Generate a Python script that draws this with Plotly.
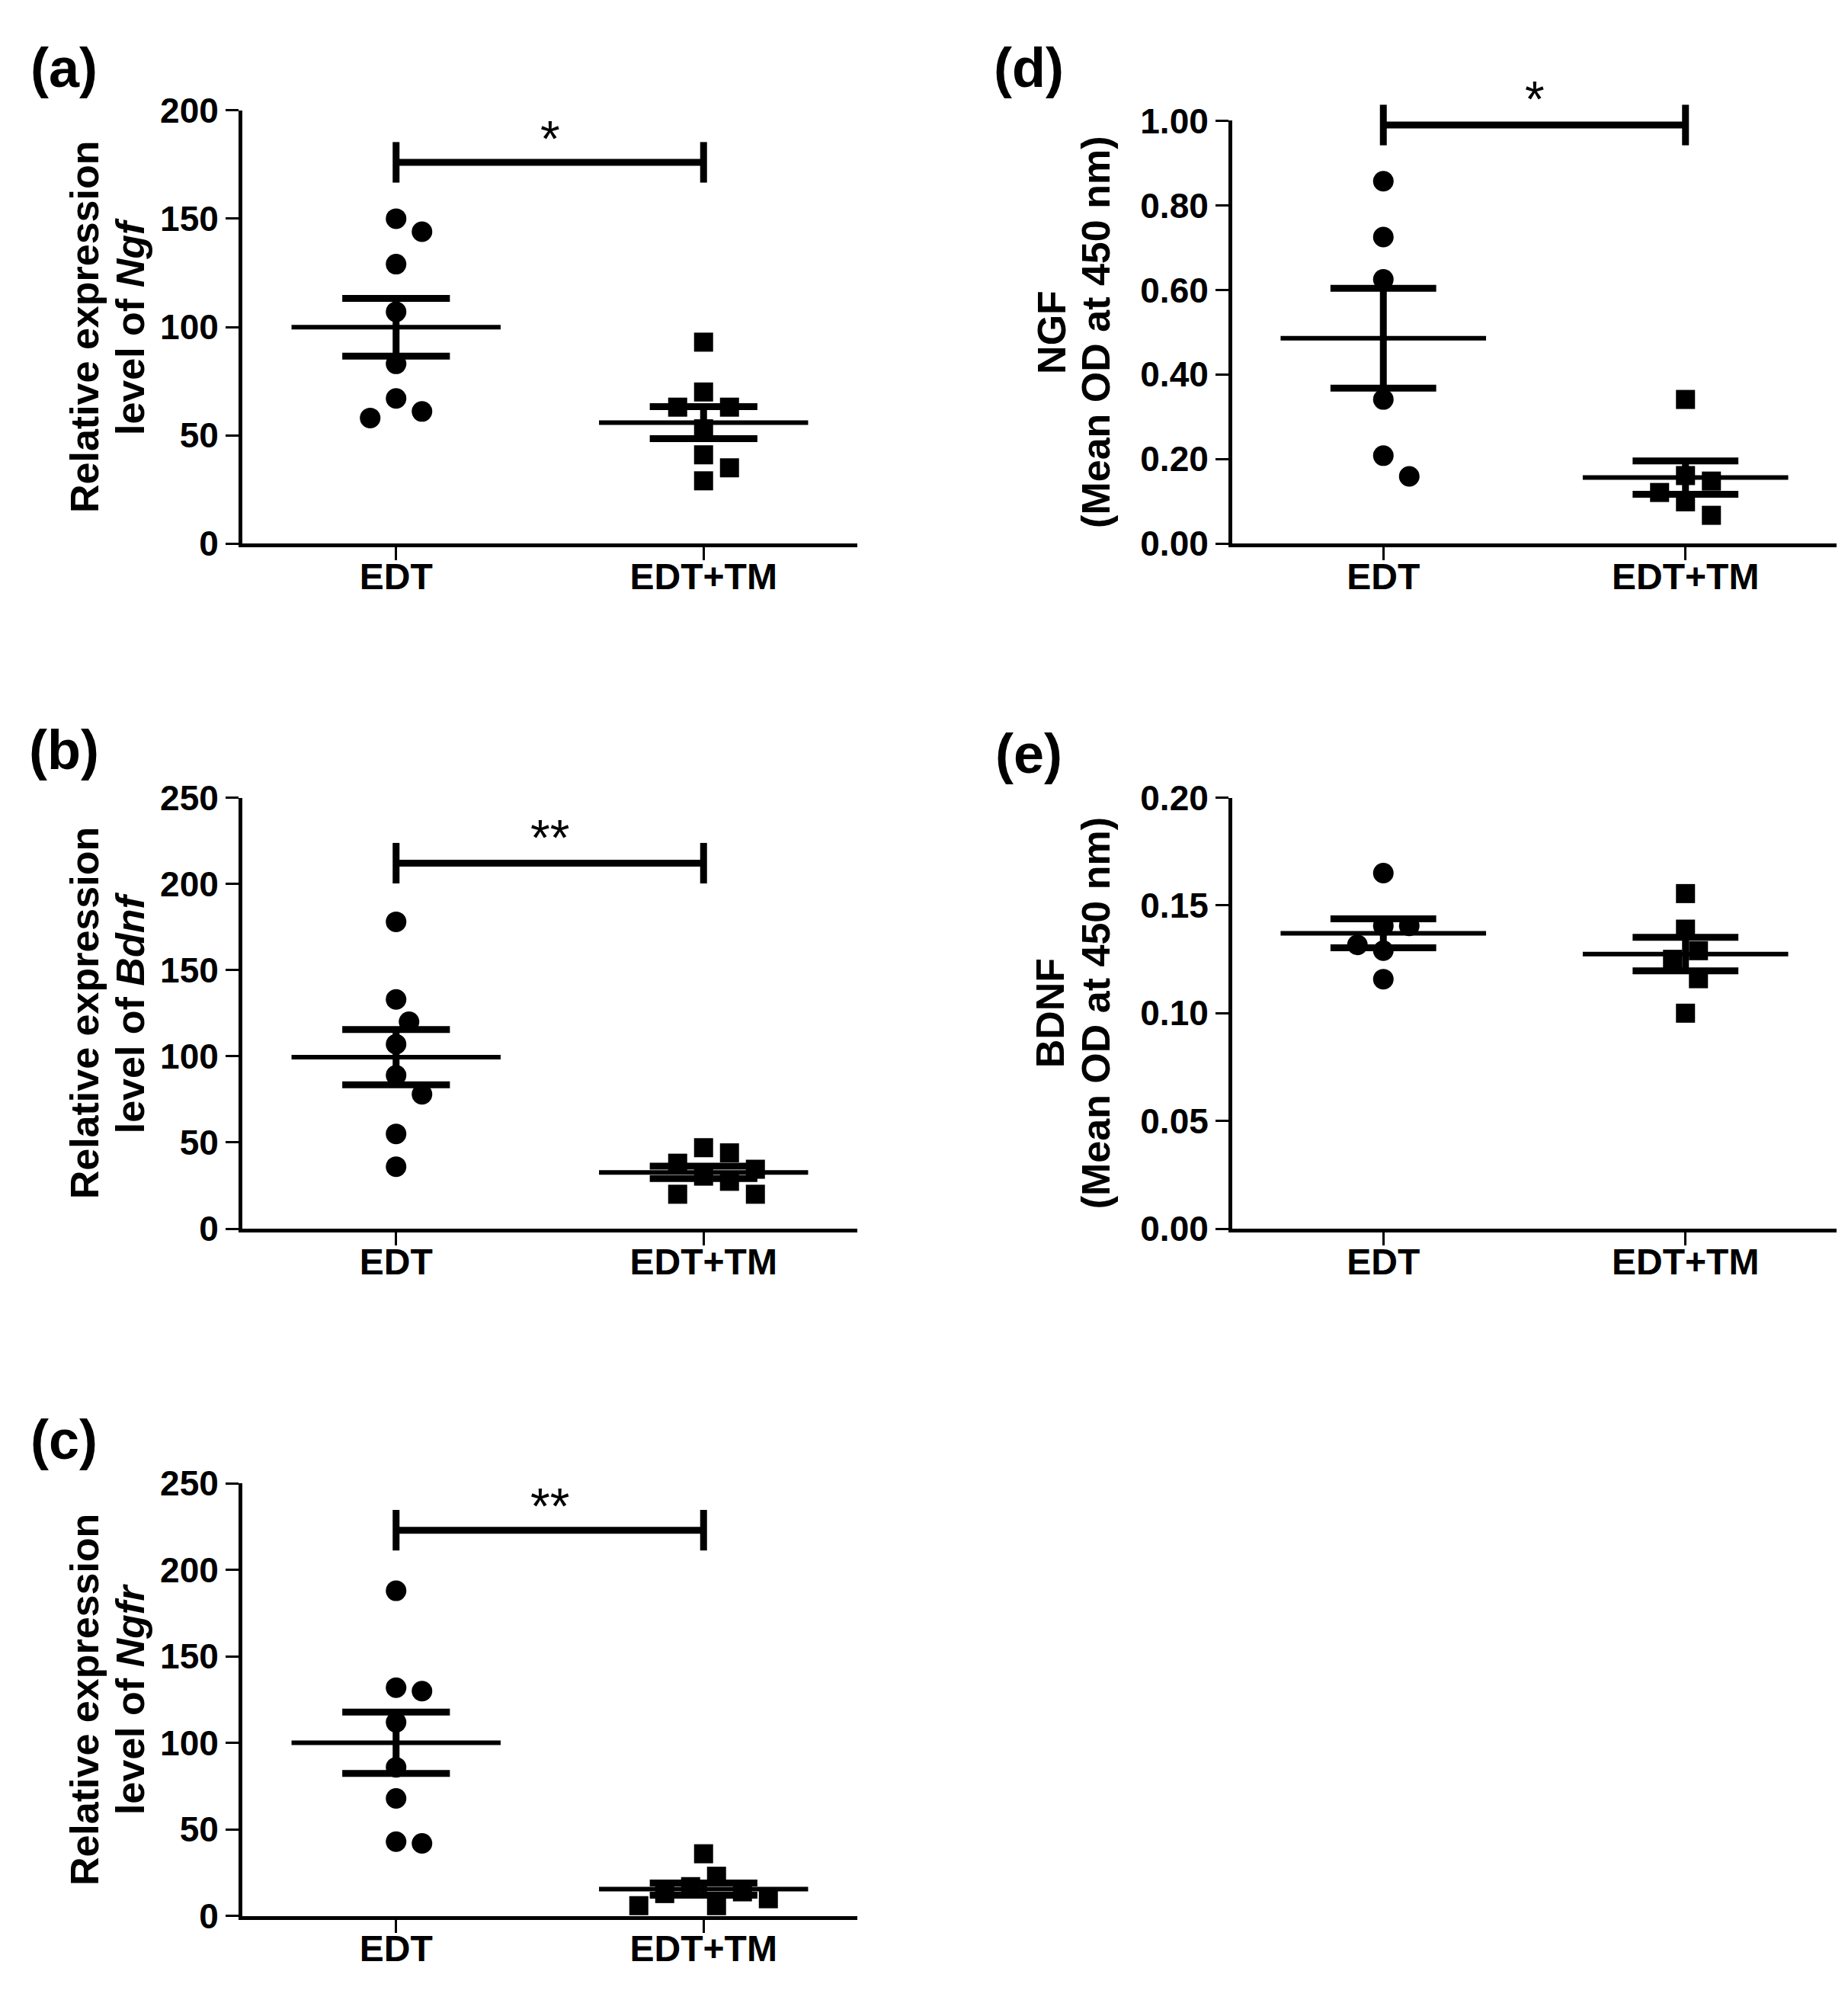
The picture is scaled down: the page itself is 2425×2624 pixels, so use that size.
import numpy as np
import plotly.graph_objects as go

W, H = 2425, 2624
groups = ["EDT", "EDT+TM"]

# (a) Ngf qPCR
ngf_edt = [150, 144, 129, 107, 83, 67, 61, 58]
ngf_tm = [93, 70, 63, 63, 53, 41, 35, 29]
# (b) Bdnf qPCR
bdnf_edt = [178, 133, 120, 107, 89, 78, 55, 36]
bdnf_tm = [47, 44, 38, 34.5, 30.5, 27.5, 20, 20]
# (c) Ngfr qPCR
ngfr_edt = [188, 132, 130, 112, 86, 68, 43, 42]
ngfr_tm = [36, 23, 17, 14, 13, 10, 6, 6]
# (d) NGF ELISA
ngf_od_edt = [0.857, 0.725, 0.625, 0.341, 0.208, 0.159]
ngf_od_tm = [0.341, 0.161, 0.148, 0.121, 0.099, 0.067]
# (e) BDNF ELISA
bdnf_od_edt = [0.165, 0.1405, 0.1405, 0.1317, 0.129, 0.1158]
bdnf_od_tm = [0.1555, 0.139, 0.129, 0.125, 0.116, 0.100]

sig_text = ["*", "**", "**", "*", None]
bracket_y = [176, 212, 223, 0.99, None]
star_y = [192, 233, 243, 1.076, None]

FONT = "Liberation Sans, Arial, sans-serif"

# panel boxes in pixels: left, top, right, bottom
panels = [
    dict(lab="(a)", data=(ngf_edt, ngf_tm), box=(310, 113, 1117, 693), ymax=200, dtick=50, fmt="",
         title=["Relative expression", "level of <i>Ngf</i>"], tx=[103, 163], labxy=(76, 56)),
    dict(lab="(b)", data=(bdnf_edt, bdnf_tm), box=(310, 1033, 1117, 1610), ymax=250, dtick=50, fmt="",
         title=["Relative expression", "level of <i>Bdnf</i>"], tx=[103, 163], labxy=(76, 969)),
    dict(lab="(c)", data=(ngfr_edt, ngfr_tm), box=(310, 1951, 1117, 2530), ymax=250, dtick=50, fmt="",
         title=["Relative expression", "level of <i>Ngfr</i>"], tx=[103, 163], labxy=(76, 1893)),
    dict(lab="(d)", data=(ngf_od_edt, ngf_od_tm), box=(1609, 127, 2402, 693), ymax=1.0, dtick=0.2, fmt=".2f",
         title=["NGF", "(Mean OD at 450 nm)"], tx=[1372, 1430], labxy=(1342, 56)),
    dict(lab="(e)", data=(bdnf_od_edt, bdnf_od_tm), box=(1609, 1033, 2402, 1610), ymax=0.2, dtick=0.05, fmt=".2f",
         title=["BDNF", "(Mean OD at 450 nm)"], tx=[1370, 1430], labxy=(1342, 974)),
]

MS = [27, 25]  # circle, square size px
STEP = 17      # swarm step px
MIND = 33      # min centre distance px


def swarm(vals, ppx, ppy):
    placed = []
    offs = []
    for v in vals:
        yp = v * ppy
        cands = [0]
        for k in range(1, 12):
            cands += [k * STEP, -k * STEP]
        for xo in cands:
            if all((xo - a) ** 2 + (yp - b) ** 2 >= MIND ** 2 for a, b in placed):
                break
        placed.append((xo, yp))
        offs.append(xo / ppx)
    return offs


fig = go.Figure()
annotations = []
symbols = ["circle", "square"]

for i, p in enumerate(panels):
    n = "" if i == 0 else str(i + 1)
    xa, ya = "x" + n, "y" + n
    l, t, r, b = p["box"]
    ppx = (r - l) / 2.0
    ppy = (b - t) / p["ymax"]

    fig.update_layout(**{
        "xaxis" + n: dict(domain=[l / W, r / W], anchor=ya, range=[0.5, 2.5], tickvals=[1, 2],
                          ticktext=groups, showline=True, linewidth=5, linecolor="black",
                          ticks="outside", ticklen=17, tickwidth=3, tickcolor="black",
                          ticklabelstandoff=-20,
                          showgrid=False, zeroline=False, fixedrange=True,
                          tickfont=dict(family=FONT, size=48, color="black", weight="bold")),
        "yaxis" + n: dict(domain=[1 - b / H, 1 - t / H], anchor=xa, range=[0, p["ymax"]],
                          tick0=0, dtick=p["dtick"], tickformat=p["fmt"], showline=True,
                          linewidth=5, linecolor="black", ticks="outside", ticklen=17,
                          tickwidth=3, tickcolor="black", showgrid=False, zeroline=False,
                          fixedrange=True,
                          tickfont=dict(family=FONT, size=46, color="black", weight="bold")),
    })

    for g, vals in enumerate(p["data"]):
        c = g + 1
        vals = np.array(vals, dtype=float)
        offs = swarm(vals, ppx, ppy)
        m = vals.mean()
        sem = vals.std(ddof=1) / np.sqrt(len(vals))
        fig.add_trace(go.Scatter(x=c + np.array(offs), y=vals, mode="markers", xaxis=xa, yaxis=ya,
                                 marker=dict(symbol=symbols[g], size=MS[g], color="black"),
                                 cliponaxis=False))
        fig.add_trace(go.Scatter(x=[c - 0.34, c + 0.34], y=[m, m], mode="lines", xaxis=xa, yaxis=ya,
                                 line=dict(color="black", width=6)))
        fig.add_trace(go.Scatter(x=[c], y=[m], mode="markers", xaxis=xa, yaxis=ya,
                                 marker=dict(size=1, color="rgba(0,0,0,0)"),
                                 error_y=dict(type="data", array=[sem], color="black",
                                              thickness=9, width=0.175 * ppx)))

    if sig_text[i]:
        by = bracket_y[i]
        fig.add_trace(go.Scatter(x=[1, 2], y=[by, by], mode="lines+markers", xaxis=xa, yaxis=ya,
                                 line=dict(color="black", width=9), cliponaxis=False,
                                 marker=dict(symbol="line-ns", size=38, color="black",
                                             line=dict(color="black", width=9))))
        annotations.append(dict(x=1.5, y=star_y[i] / p["ymax"], xref=xa, yref=ya + " domain",
                                text=sig_text[i], showarrow=False, yanchor="middle", yshift=-14,
                                font=dict(family=FONT, size=66, color="black")))

    yc = 1 - (t + b) / 2.0 / H
    for line, x in zip(p["title"], p["tx"]):
        annotations.append(dict(x=x / W, y=yc, xref="paper", yref="paper", text=line,
                                textangle=-90, showarrow=False, xanchor="center", yanchor="middle",
                                font=dict(family=FONT, size=52, color="black", weight="bold")))
    lx, ly = p["labxy"]
    annotations.append(dict(x=lx / W, y=1 - ly / H, xref="paper", yref="paper", text=p["lab"],
                            showarrow=False, xanchor="center", yanchor="middle",
                            font=dict(family=FONT, size=72, color="black", weight="bold")))

fig.update_layout(width=W, height=H, margin=dict(l=0, r=0, t=0, b=0), showlegend=False,
                  plot_bgcolor="white", paper_bgcolor="white", annotations=annotations)

fig.write_html("out.html")
